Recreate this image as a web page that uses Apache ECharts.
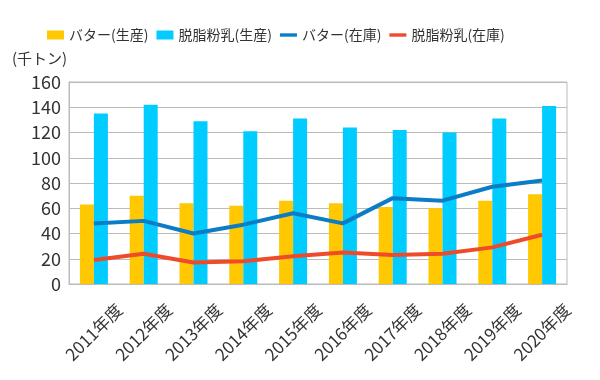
<!DOCTYPE html>
<html>
<head>
<meta charset="utf-8">
<script src="https://cdn.jsdelivr.net/npm/echarts@6/dist/echarts.min.js"></script>
<style>
html,body{margin:0;padding:0;background:#fff;}
#c{width:600px;height:380px;}
</style>
</head>
<body>
<div id="c"></div>
<script>
var categories = ['2011年度','2012年度','2013年度','2014年度','2015年度','2016年度','2017年度','2018年度','2019年度','2020年度'];
var butterProd = [63, 70, 64, 62, 66, 64, 61, 60, 66, 71];
var smpProd = [135, 142, 129, 121, 131, 124, 122, 120, 131, 141];
var butterStock = [48, 50, 40, 47, 56, 48, 68, 66, 77, 82];
var smpStock = [19, 24, 17, 18, 22, 25, 23, 24, 29, 39];
var seriesNames = ['バター(生産)', '脱脂粉乳(生産)', 'バター(在庫)', '脱脂粉乳(在庫)'];
var unitLabel = '(千トン)';

var font = '"Noto Sans CJK JP", "Noto Sans", sans-serif';
var chart = echarts.init(document.getElementById('c'));
chart.setOption({
  animation: false,
  textStyle: { fontFamily: font },
  legend: {
    top: 23,
    left: 42,
    itemWidth: 17,
    itemHeight: 9,
    itemGap: 8,
    textStyle: { fontSize: 14, color: '#333', fontFamily: font },
    data: [
      { name: seriesNames[0], icon: 'rect' },
      { name: seriesNames[1], icon: 'rect' },
      { name: seriesNames[2], icon: 'path://M0,0 L20,0 L20,4 L0,4 Z' },
      { name: seriesNames[3], icon: 'path://M0,0 L20,0 L20,4 L0,4 Z' }
    ]
  },
  graphic: [{
    type: 'text', left: 12, top: 51,
    style: { text: unitLabel, fontSize: 15, fill: '#333', fontFamily: font }
  }],
  grid: {
    left: 69, right: 33, top: 82, bottom: 96,
    show: true, borderColor: '#bbb', borderWidth: 1
  },
  xAxis: {
    type: 'category',
    data: categories,
    axisLine: { lineStyle: { color: '#bbb' } },
    axisTick: { alignWithLabel: false, length: 6, lineStyle: { color: '#bbb' } },
    axisLabel: {
      rotate: 45, align: 'center', verticalAlign: 'middle', margin: 48,
      fontSize: 17, color: '#333', fontFamily: font, interval: 0
    }
  },
  yAxis: {
    type: 'value', min: 0, max: 160, interval: 20,
    axisLine: { show: true, lineStyle: { color: '#bbb' } },
    axisTick: { show: false },
    axisLabel: { fontSize: 18, color: '#333', margin: 8, fontFamily: font },
    splitLine: { lineStyle: { color: '#bbb' } }
  },
  series: [
    { name: seriesNames[0], type: 'bar', data: butterProd, barWidth: 14, barGap: '0%',
      itemStyle: { color: '#FFC800' } },
    { name: seriesNames[1], type: 'bar', data: smpProd, barWidth: 14, barGap: '0%',
      itemStyle: { color: '#00CCFF' } },
    { name: seriesNames[2], type: 'line', data: butterStock, symbol: 'none',
      lineStyle: { width: 4, color: '#0B7DC7' }, itemStyle: { color: '#0B7DC7' } },
    { name: seriesNames[3], type: 'line', data: smpStock, symbol: 'none',
      lineStyle: { width: 4, color: '#EE4B2B' }, itemStyle: { color: '#EE4B2B' } }
  ]
});
</script>
</body>
</html>
